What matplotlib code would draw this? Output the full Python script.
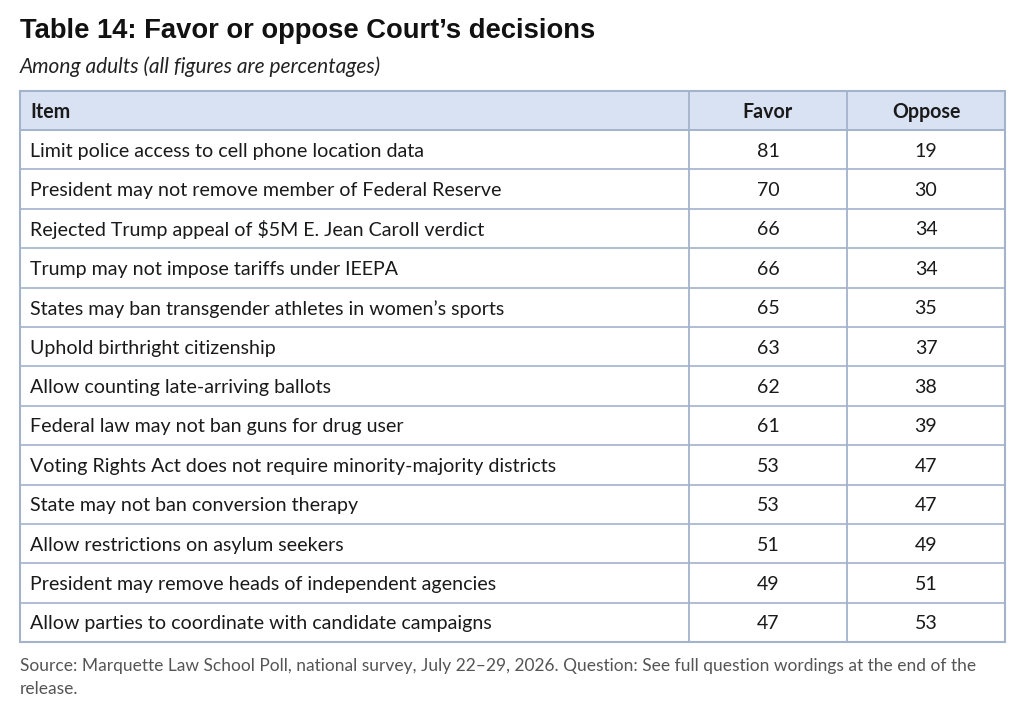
import matplotlib
matplotlib.use("Agg")
import matplotlib.pyplot as plt
from matplotlib.patches import Rectangle

title = "Table 14: Favor or oppose Court\u2019s decisions"
subtitle = "Among adults (all figures are percentages)"
headers = ["Item", "Favor", "Oppose"]
items = [
    "Limit police access to cell phone location data",
    "President may not remove member of Federal Reserve",
    "Rejected Trump appeal of $5M E. Jean Caroll verdict",
    "Trump may not impose tariffs under IEEPA",
    "States may ban transgender athletes in women\u2019s sports",
    "Uphold birthright citizenship",
    "Allow counting late-arriving ballots",
    "Federal law may not ban guns for drug user",
    "Voting Rights Act does not require minority-majority districts",
    "State may not ban conversion therapy",
    "Allow restrictions on asylum seekers",
    "President may remove heads of independent agencies",
    "Allow parties to coordinate with candidate campaigns",
]
favor = [81, 70, 66, 66, 65, 63, 62, 61, 53, 53, 51, 49, 47]
oppose = [19, 30, 34, 34, 35, 37, 38, 39, 47, 47, 49, 51, 53]
source_lines = ["Source: Marquette Law School Poll, national survey, July 22\u201329, 2026. Question: See full question wordings at the end of the",
                "release."]

W, H = 1024, 715
fig = plt.figure(figsize=(W / 100, H / 100), dpi=100)
ax = fig.add_axes([0, 0, 1, 1])
ax.set_xlim(0, W)
ax.set_ylim(H, 0)
ax.axis("off")

left, right = 20, 1005
c1, c2 = 689, 847
top = 90.5
row_h = 39.4
n = len(items)
bottom = top + row_h * (n + 1)

border = "#A3B3CC"
rowline = "#AFBDD4"
header_bg = "#D9E2F3"
txt = "#1a1a1a"
dy = 1.5

ax.text(20, 30.5, title, fontsize=19.7, fontweight="bold", family="Liberation Sans",
        color="#111111", va="center", ha="left")
ax.text(20, 66.5, subtitle, fontsize=15, style="italic", family="Lato",
        color="#222222", va="center", ha="left")

ax.add_patch(Rectangle((left, top), right - left, row_h, facecolor=header_bg,
                       edgecolor="none", zorder=1))

for i in range(1, n + 1):
    y = top + row_h * i
    ax.plot([left, right], [y, y], color=rowline if i > 1 else border, lw=1.4, zorder=2)
for x in (c1, c2):
    ax.plot([x, x], [top, bottom], color=border, lw=1.3, zorder=3)
ax.add_patch(Rectangle((left, top), right - left, bottom - top, facecolor="none",
                       edgecolor=border, lw=1.5, zorder=4))

fs = 14.1
cy = top + row_h / 2 + dy
ax.text(30, cy, headers[0], fontsize=fs, fontweight="bold", family="Lato", color=txt,
        va="center", ha="left")
ax.text((c1 + c2) / 2, cy, headers[1], fontsize=fs, fontweight="bold", family="Lato",
        color=txt, va="center", ha="center")
ax.text((c2 + right) / 2, cy, headers[2], fontsize=fs, fontweight="bold", family="Lato",
        color=txt, va="center", ha="center")

for i, (it, f, o) in enumerate(zip(items, favor, oppose)):
    cy = top + row_h * (i + 1) + row_h / 2 + dy
    ax.text(30, cy, it, fontsize=fs, family="Lato", color=txt, va="center", ha="left")
    ax.text((c1 + c2) / 2, cy, str(f), fontsize=fs, family="Lato", color=txt,
            va="center", ha="center")
    ax.text((c2 + right) / 2, cy, str(o), fontsize=fs, family="Lato", color=txt,
            va="center", ha="center")

for k, line in enumerate(source_lines):
    ax.text(20, 666.5 + 23 * k, line, fontsize=12.5, family="Lato", color="#555555",
            va="center", ha="left")

fig.savefig("out.png", dpi=100)
